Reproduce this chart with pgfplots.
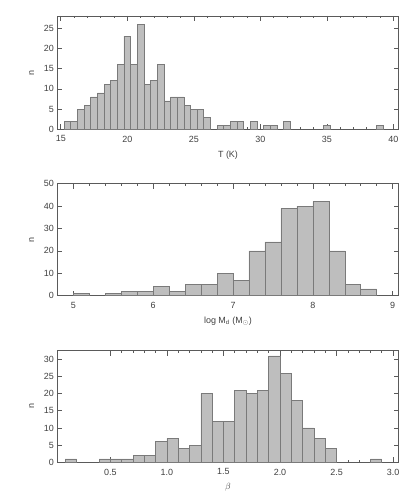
\documentclass[border=0pt]{standalone}
\usepackage{fontspec}
\setmainfont{Liberation Sans}
\usepackage{pgfplots}
\pgfplotsset{compat=1.18}

\definecolor{barfill}{HTML}{BEBEBE}
\definecolor{baredge}{HTML}{7A7A7A}
\definecolor{axgray}{HTML}{5A5A5A}
\definecolor{txtgray}{HTML}{404040}

\pgfplotsset{
  histo/.style={
    scale only axis, width=341.4bp,
    axis line style={axgray, line width=0.7pt},
    tick style={axgray, line width=0.6pt},
    tick align=inside,
    xtick pos=both, ytick pos=both,
    major tick length=5bp, minor tick length=2.5bp,
    minor x tick num=4,
    ymin=0,
    font=\fontsize{9}{10}\selectfont\color{txtgray},
    /pgf/number format/assume math mode=true,
    xticklabel style={yshift=-3bp},
    ylabel style={at={(axis description cs:-0.075,0.5)}, anchor=center, rotate=0},
    xlabel style={at={(axis description cs:0.5,-0.225)}, anchor=center},
    every axis plot/.append style={ybar, bar shift=0pt, fill=barfill, draw=baredge, line width=0.6pt},
  }
}

\begin{document}
\begin{tikzpicture}
\useasboundingbox (0,0) rectangle (415bp,499bp);

% T (K), bins of 0.5 centred on the values
\begin{axis}[histo, at={(57.3bp,369.7bp)}, anchor=south west, height=113.3bp,
  xmin=14.74, xmax=40.4, ymax=28,
  xtick={15,20,25,30,35,40}, ytick={0,5,10,15,20,25},
  xlabel={T (K)}, ylabel={n}]
\addplot[bar width=0.5] coordinates {
 (15.5,2) (16.0,2) (16.5,5) (17.0,6) (17.5,8) (18.0,9) (18.5,11) (19.0,12)
 (19.5,16) (20.0,23) (20.5,16) (21.0,26) (21.5,11) (22.0,12) (22.5,16)
 (23.0,7) (23.5,8) (24.0,8) (24.5,6) (25.0,5) (25.5,5) (26.0,3)
 (27.0,1) (27.5,1) (28.0,2) (28.5,2) (29.5,2) (30.5,1) (31.0,1) (32.0,2)
 (35.0,1) (39.0,1)
};
\end{axis}

% log Md, bins of 0.2
\begin{axis}[histo, at={(57.3bp,203.3bp)}, anchor=south west, height=112bp,
  xmin=4.8, xmax=9.075, ymax=50,
  xtick={5,6,7,8,9}, ytick={0,10,20,30,40,50},
  xlabel={log M\textsubscript{d} (M\textsubscript{$\odot$})}, ylabel={n}]
\addplot[bar width=0.2] coordinates {
 (5.1,1) (5.5,1) (5.7,2) (5.9,2) (6.1,4) (6.3,2) (6.5,5) (6.7,5) (6.9,10)
 (7.1,7) (7.3,20) (7.5,24) (7.7,39) (7.9,40) (8.1,42) (8.3,20) (8.5,5) (8.7,3)
};
\end{axis}

% beta, bins of 0.1
\begin{axis}[histo, at={(57.3bp,36.7bp)}, anchor=south west, height=111.6bp,
  xmin=0.03, xmax=3.05, ymax=32.5,
  xtick={0.5,1.0,1.5,2.0,2.5,3.0}, ytick={0,5,10,15,20,25,30},
  xticklabel style={/pgf/number format/.cd, fixed, fixed zerofill, precision=1},
  xlabel={$\beta$}, ylabel={n}]
\addplot[bar width=0.1] coordinates {
 (0.15,1) (0.45,1) (0.55,1) (0.65,1) (0.75,2) (0.85,2) (0.95,6) (1.05,7)
 (1.15,4) (1.25,5) (1.35,20) (1.45,12) (1.55,12) (1.65,21) (1.75,20) (1.85,21)
 (1.95,31) (2.05,26) (2.15,18) (2.25,10) (2.35,7) (2.45,4) (2.85,1)
};
\end{axis}
\end{tikzpicture}
\end{document}
